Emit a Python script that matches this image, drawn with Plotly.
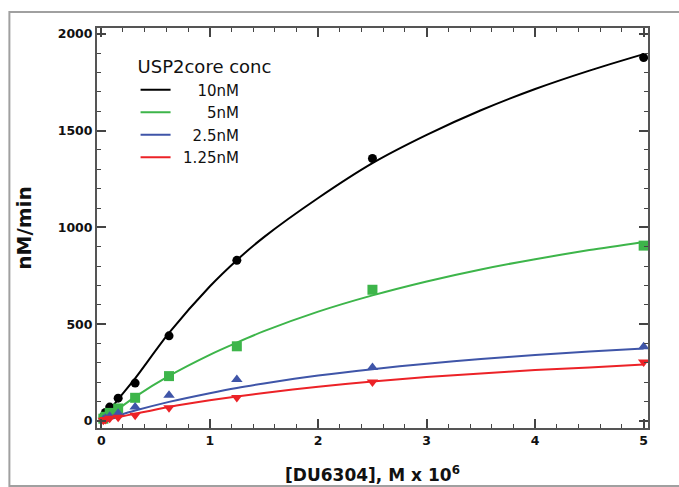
import plotly.graph_objects as go

# ---- data ----
conc_x = [0.0195, 0.039, 0.078, 0.156, 0.3125, 0.625, 1.25, 2.5, 5.0]
rate_10nM = [22, 44, 72, 118, 196, 440, 830, 1356, 1877]
rate_5nM = [12, 22, 42, 65, 120, 232, 386, 678, 906]
rate_2_5nM = [8, 15, 25, 40, 72, 133, 214, 277, 384]
rate_1_25nM = [4, 8, 14, 20, 30, 68, 122, 202, 305]

fit_x = [0, 0.156, 0.3125, 0.625, 1.0, 1.25, 1.5, 2.0, 2.5, 3.0, 3.5, 4.0, 4.5, 5.0]
fit_10nM = [0, 112, 220, 455, 695, 831, 950, 1152, 1332, 1478, 1605, 1715, 1810, 1895]
fit_5nM = [0, 62, 125, 233, 342, 405, 464, 565, 649, 721, 783, 836, 883, 925]
fit_2_5nM = [0, 28, 54, 99, 144, 171, 194, 235, 268, 296, 320, 341, 359, 375]
fit_1_25nM = [0, 20, 38, 73, 107, 127, 145, 177, 204, 227, 246, 263, 277, 292]

labels = ["\u2002\u2007\u200810nM", "\u2002\u2007\u2007\u20085nM", "\u2002\u20072.5nM", "\u20021.25nM"]
x_ticks = [0, 1, 2, 3, 4, 5]
y_ticks = [0, 500, 1000, 1500, 2000]

colors = ["#000000", "#3db54a", "#3f55a8", "#ec2227"]
symbols = ["circle", "square", "triangle-up", "triangle-down"]
msizes = [9, 10, 10, 10]

rates = [rate_10nM, rate_5nM, rate_2_5nM, rate_1_25nM]
fits = [fit_10nM, fit_5nM, fit_2_5nM, fit_1_25nM]

fig = go.Figure()
for lab, fy, c in zip(labels, fits, colors):
    fig.add_trace(go.Scatter(x=fit_x, y=fy, mode="lines", name=lab,
                             line=dict(color=c, width=2, shape="spline", smoothing=0.8),
                             legendgroup=lab))
for lab, ry, c, s, ms in zip(labels, rates, colors, symbols, msizes):
    fig.add_trace(go.Scatter(x=conc_x, y=ry, mode="markers", showlegend=False,
                             marker=dict(color=c, symbol=s, size=ms, line=dict(width=0)),
                             legendgroup=lab))

tickfont = dict(family="DejaVu Sans", size=12.5, color="#111", weight="bold")
axis_common = dict(ticks="inside", ticklen=9, tickwidth=1.5, tickcolor="#444",
                   showline=True, linecolor="#555", linewidth=2, mirror="ticks",
                   showgrid=False, zeroline=False, tickfont=tickfont, automargin=False)

fig.update_layout(
    width=679, height=487, autosize=False,
    margin=dict(l=97, r=31, t=28, b=59),
    paper_bgcolor="white", plot_bgcolor="white",
    xaxis=dict(range=[-0.039, 5.04], tickvals=x_ticks,
               minor=dict(dtick=0.2, ticks="inside", ticklen=4, tickwidth=1.2, tickcolor="#444"),
               title=dict(text="[DU6304], M x 10<sup>6</sup>", standoff=22,
                          font=dict(family="DejaVu Sans", size=17, color="#111", weight="bold")),
               **axis_common),
    yaxis=dict(range=[-36, 2030], tickvals=y_ticks,
               minor=dict(dtick=100, ticks="inside", ticklen=4, tickwidth=1.2, tickcolor="#444"),
               title=dict(text="nM/min", standoff=21,
                          font=dict(family="DejaVu Sans", size=20, color="#111", weight="bold")),
               **axis_common),
    legend=dict(x=0.07, y=0.945, xanchor="left", yanchor="top",
                bgcolor="rgba(0,0,0,0)", borderwidth=0, tracegroupgap=0,
                title=dict(text="USP2core conc", font=dict(family="DejaVu Sans", size=18, color="#111")),
                font=dict(family="DejaVu Sans", size=15, color="#111")),
    shapes=[dict(type="rect", xref="paper", yref="paper",
                 x0=-0.159, x1=1.12, y0=-0.145, y1=1.04,
                 line=dict(color="#a0a0a0", width=2), layer="below")],
)

fig.write_html("out.html")
